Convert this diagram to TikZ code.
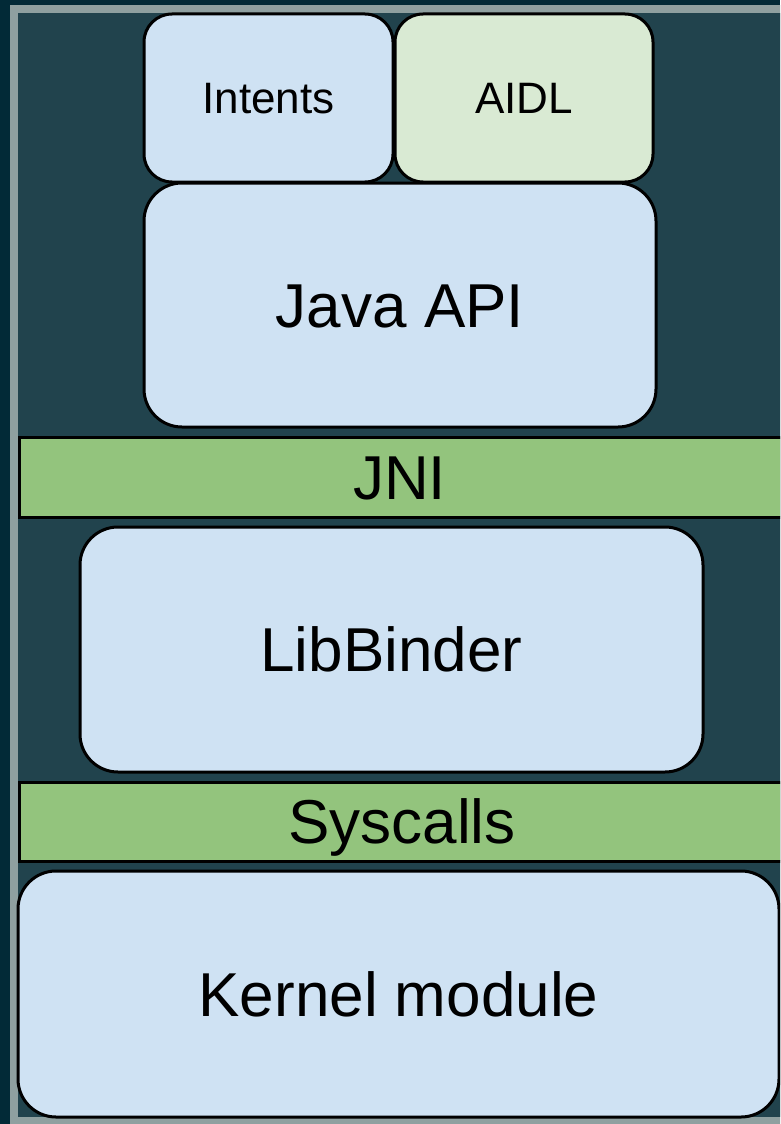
\documentclass[tikz,border=0pt]{standalone}
\usepackage{fontspec}
\setmainfont{Liberation Sans}
\usepackage{tikz}

\definecolor{pagebg}{HTML}{022A37}
\definecolor{framegrey}{HTML}{8FA0A0}
\definecolor{slatebg}{HTML}{21434D}
\definecolor{boxblue}{HTML}{CFE2F3}
\definecolor{boxgreen}{HTML}{D9EAD3}
\definecolor{bargreen}{HTML}{93C47D}

\tikzset{
  layer/.style={draw=black, line width=3pt, rounded corners=38pt,
    inner sep=0pt, text height=44pt, text depth=0pt,
    font=\fontsize{62}{74}\selectfont},
  smalllayer/.style={layer, rounded corners=28pt, text height=31pt,
    font=\fontsize{44}{52}\selectfont},
  bar/.style={draw=black, line width=3pt, fill=bargreen,
    inner sep=0pt, text height=44pt, text depth=0pt,
    font=\fontsize{62}{74}\selectfont}
}

\begin{document}
\begin{tikzpicture}[x=1pt,y=-1pt]
\useasboundingbox (0,0) rectangle (780,1124);
\clip (0,0) rectangle (780,1124);
% background and frame
\fill [pagebg] (0,0) rectangle (780,1124);
\fill [framegrey] (10,5) rectangle (800,1130);
\fill [slatebg] (18,13) rectangle (800,1117);
% top row
\node [smalllayer, fill=boxblue, minimum width=249pt, minimum height=168pt] (intents) at (268.5,98) {Intents};
\node [smalllayer, fill=boxgreen, minimum width=258pt, minimum height=168pt] (aidl) at (524,98) {AIDL};
\node [layer, fill=boxblue, minimum width=512pt, minimum height=244pt] (javaapi) at (400,305) {Java API};
% bridge
\node [bar, minimum width=801pt, minimum height=80pt] (jni) at (419.5,477) {\hspace*{-40pt}JNI};
\node [layer, fill=boxblue, minimum width=623pt, minimum height=245pt] (libbinder) at (391.5,649.5) {LibBinder};
\node [bar, minimum width=801pt, minimum height=79pt] (syscalls) at (419.5,821.5) {\hspace*{-35pt}Syscalls};
% kernel
\node [layer, fill=boxblue, minimum width=761pt, minimum height=246pt] (kernel) at (398.5,994) {Kernel module};
\end{tikzpicture}
\end{document}
